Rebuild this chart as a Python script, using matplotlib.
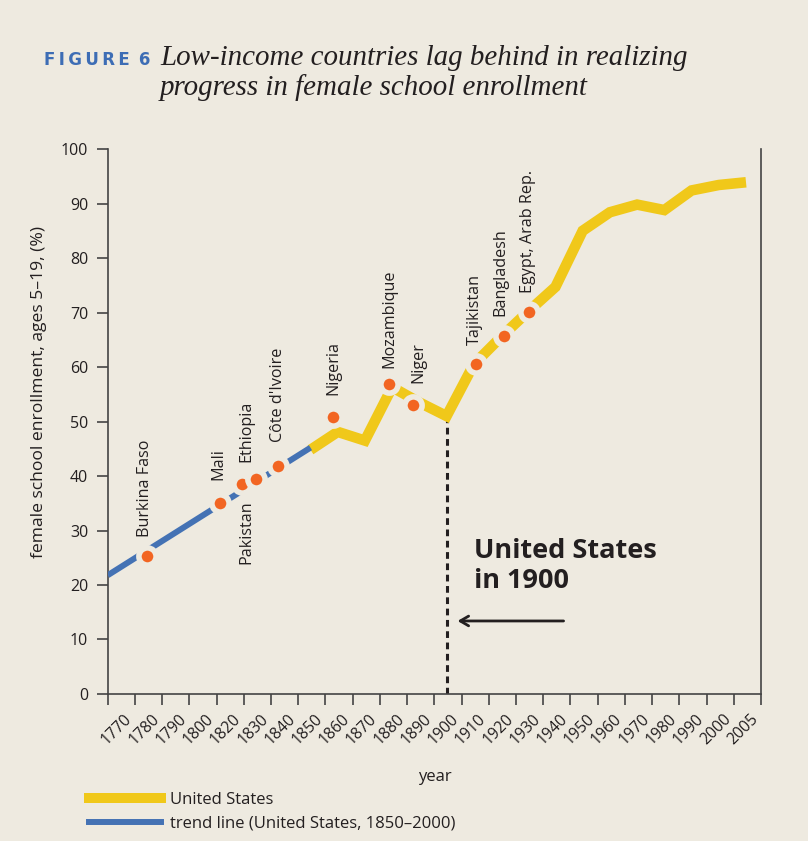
import numpy as np
import matplotlib.pyplot as plt
from matplotlib.lines import Line2D

# x axis labels (1810 is skipped in the original)
tick_years = [1770, 1780, 1790, 1800, 1820, 1830, 1840, 1850, 1860, 1870, 1880,
              1890, 1900, 1910, 1920, 1930, 1940, 1950, 1960, 1970, 1980, 1990,
              2000, 2005]

# United States female school enrollment, ages 5-19 (%)
us_years = [1850, 1860, 1870, 1880, 1890, 1900, 1910, 1920, 1930, 1940, 1950,
            1960, 1970, 1980, 1990, 2000, 2005]
us_values = [44.8, 48.1, 46.5, 56.3, 53.5, 51.0, 60.5, 65.5, 70.2, 74.7, 85.0,
             88.4, 89.8, 88.8, 92.4, 93.4, 93.9]

# trend line (United States, 1850-2000), extended back
trend_years = [1770, 1850]
trend_values = [23.2, 45.2]

# low-income countries, placed at the US year with the same enrollment
countries = ["Burkina Faso", "Mali", "Pakistan", "Ethiopia", "Côte d'Ivoire",
             "Nigeria", "Mozambique", "Niger", "Tajikistan", "Bangladesh",
             "Egypt, Arab Rep."]
country_years = [1780, 1813.6, 1824.7, 1830, 1838.2, 1858.4, 1878.8, 1887.5,
                 1910.8, 1921.2, 1930.2]
country_values = [25.3, 35.1, 38.5, 39.4, 41.8, 50.9, 56.8, 53.1, 60.6, 65.6, 70.1]

# label offsets in points (dx, dy)
label_offsets = {"Burkina Faso": (-1.5, 14), "Mali": (-1, 16), "Pakistan": (3.5, -11.5),
                 "Ethiopia": (-6.7, 12.7), "Côte d'Ivoire": (0, 17.5), "Nigeria": (0, 15.5),
                 "Mozambique": (0, 12), "Niger": (4, 15.5), "Tajikistan": (-0.7, 13.5),
                 "Bangladesh": (-3, 14.5), "Egypt, Arab Rep.": (-0.3, 13.5)}

bg = "#eeeae0"
yellow = "#f0c81a"
blue = "#4472b4"
orange = "#f26522"
ink = "#231f20"

plt.rcParams['font.family'] = ['Open Sans', 'DejaVu Sans']
plt.rcParams['text.color'] = ink

slots = np.arange(len(tick_years))


def xpos(years):
    return np.interp(years, tick_years, slots + 0.45)


fig = plt.figure(figsize=(8.08, 8.41), dpi=100, facecolor=bg)
ax = fig.add_axes([0.1333, 0.1748, 0.8085, 0.648])
ax.set_facecolor(bg)

ax.plot(xpos(us_years), us_values, color=yellow, lw=7.6, solid_joinstyle='miter',
        solid_capstyle='butt', zorder=2)

fit = np.polyfit(xpos(trend_years), trend_values, 1)
tx = np.array([0, xpos(trend_years[-1])])
ax.plot(tx, np.polyval(fit, tx), color=blue, lw=4.3, solid_capstyle='butt', zorder=3)

cx = xpos(country_years)
ax.plot(cx, country_values, 'o', ms=12.4, mfc=orange, mec=bg, mew=4.0, ls='none', zorder=4)
for name, x, y in zip(countries, cx, country_values):
    dx, dy = label_offsets[name]
    ax.annotate(name, (x, y), xytext=(dx, dy), textcoords='offset points',
                rotation=90, ha='center', va='bottom' if dy > 0 else 'top',
                fontsize=11.6, color=ink)

x1900 = xpos(1900)
ax.plot([x1900, x1900], [0, us_values[us_years.index(1900)]], color=ink, lw=2.2,
        ls=(0, (2.2, 1.5)), zorder=1)
ax.annotate('', xy=(x1900 + 0.3, 13.4), xytext=(x1900 + 4.4, 13.4),
            arrowprops=dict(arrowstyle='->,head_length=0.6,head_width=0.35', color=ink, lw=2))
ax.text(x1900 + 1.0, 28.6, "United States\nin 1900", fontsize=19.5, fontweight='bold',
        color=ink, va='top', ha='left', linespacing=1.2)

ax.set_xlim(0, len(tick_years))
ax.set_ylim(0, 100)
ax.set_xticks(np.arange(len(tick_years) + 1))
ax.set_xticklabels([])
ax.set_xticks(slots + 0.6, minor=True)
ax.set_xticklabels([str(y) for y in tick_years], minor=True, rotation=45,
                   ha='right', va='top', rotation_mode='anchor')
ax.tick_params(axis='x', which='minor', length=0, pad=12, labelsize=11.3, labelcolor=ink)
ax.tick_params(axis='x', which='major', length=8, width=1.2, color='#444444')
ax.set_yticks(np.arange(0, 101, 10))
ax.tick_params(axis='y', length=8, width=1.2, color='#444444', pad=6, labelsize=11.5,
               labelcolor=ink)
for side in ['left', 'right', 'bottom']:
    ax.spines[side].set_color('#444444')
    ax.spines[side].set_linewidth(1.2)
ax.spines['top'].set_visible(False)

ax.set_ylabel("female school enrollment, ages 5–19, (%)", fontsize=12.6, color=ink)
ax.yaxis.set_label_coords(-0.093, 0.554)
ax.set_xlabel("year", fontsize=12, color=ink)
ax.xaxis.set_label_coords(0.5, -0.137)

handles = [Line2D([], [], color=yellow, lw=7.2), Line2D([], [], color=blue, lw=4.3)]
fig.legend(handles, ["United States", "trend line (United States, 1850–2000)"],
           loc='upper left', bbox_to_anchor=(0.11, 0.058), frameon=False,
           fontsize=12, handlelength=4.3, handletextpad=0.58, labelspacing=0.45,
           borderaxespad=0, borderpad=0)

fig.text(44 / 808, 1 - 65 / 841, "F\u2009I\u2009G\u2009U\u2009R\u2009E\u2009 6",
         fontsize=12, fontweight='bold', color="#3d6db5", family=['DejaVu Sans'],
         va='baseline')
fig.text(160 / 808, 1 - 65 / 841, "Low-income countries lag behind in realizing",
         fontsize=20.9, style='italic', family=['Liberation Serif'], va='baseline')
fig.text(160 / 808, 1 - 95 / 841, "progress in female school enrollment",
         fontsize=20.9, style='italic', family=['Liberation Serif'], va='baseline')

fig.savefig("out.png", dpi=100, facecolor=bg)
